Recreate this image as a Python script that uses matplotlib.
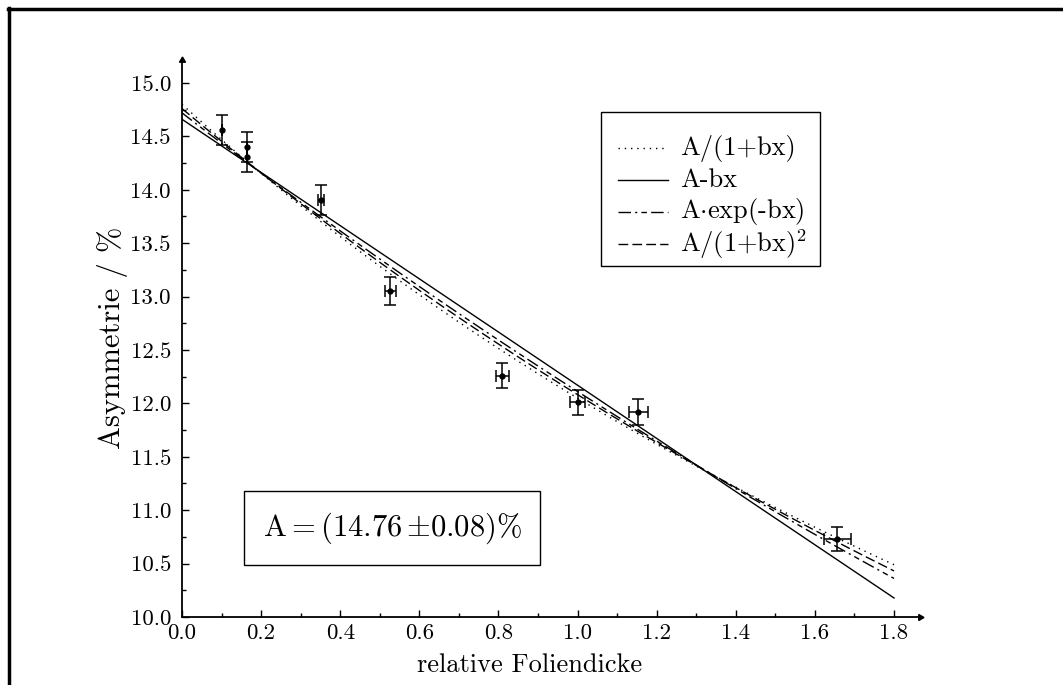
import numpy as np
import matplotlib
matplotlib.use("Agg")
import matplotlib.pyplot as plt
from matplotlib.ticker import MultipleLocator, FormatStrFormatter
from matplotlib.lines import Line2D
from matplotlib.patches import Rectangle

plt.rcParams['font.family'] = 'serif'
plt.rcParams['font.serif'] = ['cmr10', 'DejaVu Serif']
plt.rcParams['mathtext.fontset'] = 'cm'
plt.rcParams['axes.formatter.use_mathtext'] = True

# Messpunkte: relative Foliendicke, Asymmetrie in %, Fehler
dicke = [0.10, 0.165, 0.165, 0.351, 0.527, 0.81, 1.00, 1.153, 1.657]
asym = [14.56, 14.40, 14.31, 13.90, 13.05, 12.26, 12.01, 11.92, 10.73]
d_dicke = [0.0, 0.0, 0.0, 0.008, 0.013, 0.017, 0.019, 0.024, 0.034]
d_asym = [0.14, 0.14, 0.14, 0.14, 0.13, 0.12, 0.115, 0.12, 0.11]

# Fitparameter (A in %, b)
fit_hyp = (14.80, 0.2283)    # A/(1+bx)
fit_lin = (14.66, 2.49)      # A-bx
fit_exp = (14.72, 0.1951)    # A*exp(-bx)
fit_hyp2 = (14.76, 0.1053)   # A/(1+bx)^2

namen = ['A/(1+bx)', 'A-bx', r'A$\cdot$exp(-bx)', r'A/(1+bx)$^2$']
stile = [(0, (1, 3.5)), '-', (0, (9, 3, 1.5, 3, 4, 3)), (0, (7, 3))]

W, H = 1063, 685
fig = plt.figure(figsize=(W/100, H/100), dpi=100)
ax = fig.add_axes([182/W, 68/H, 738/W, 557/H])

x = np.linspace(0, 1.8, 400)
kurven = [fit_hyp[0]/(1 + fit_hyp[1]*x),
          fit_lin[0] - fit_lin[1]*x,
          fit_exp[0]*np.exp(-fit_exp[1]*x),
          fit_hyp2[0]/(1 + fit_hyp2[1]*x)**2]
for y, ls in zip(kurven, stile):
    ax.plot(x, y, color='k', lw=1.0, ls=ls)

ax.errorbar(dicke, asym, yerr=d_asym, xerr=d_dicke, fmt='o', color='k', ms=3.5,
            elinewidth=1.1, capsize=4.5, capthick=1.1)

ax.set_xlim(0, 1.8656)
ax.set_ylim(10.0, 15.215)
ax.xaxis.set_major_locator(MultipleLocator(0.2))
ax.xaxis.set_minor_locator(MultipleLocator(0.1))
ax.yaxis.set_major_locator(MultipleLocator(0.5))
ax.yaxis.set_minor_locator(MultipleLocator(0.25))
ax.xaxis.set_major_formatter(FormatStrFormatter('%.1f'))
ax.yaxis.set_major_formatter(FormatStrFormatter('%.1f'))
ax.tick_params(which='both', direction='in', labelsize=16.5, width=1)
ax.tick_params(which='major', length=5, pad=5)
ax.tick_params(which='minor', length=3)
ax.tick_params(axis='y', pad=8)
for s in ['top', 'right']:
    ax.spines[s].set_visible(False)
for s in ['left', 'bottom']:
    ax.spines[s].set_linewidth(1.3)

# Pfeile an den Achsenenden
ax.plot(1, 0, marker=(3, 0, -90), color='k', ms=5, transform=ax.transAxes, clip_on=False)
ax.plot(0, 1, marker=(3, 0, 0), color='k', ms=5, transform=ax.transAxes, clip_on=False)

ax.set_xlabel('relative Foliendicke', fontsize=19)
ax.xaxis.set_label_coords((530 - 182)/738, -(665 - 617)/557, transform=ax.transAxes)
ax.xaxis.label.set_va('center')
ax.set_ylabel('Asymmetrie / %', fontsize=22)
ax.yaxis.set_label_coords(-(182 - 112)/738, (617 - 338)/557, transform=ax.transAxes)
ax.yaxis.label.set_va('center')

# Legende von Hand
fig.add_artist(Rectangle((601/W, 1 - 266/H), 219/W, 154/H, fill=True, fc='white',
                         ec='k', lw=1.0, transform=fig.transFigure))
for i, (name, ls) in enumerate(zip(namen, stile)):
    yy = 1 - (148 + 32*i)/H
    fig.add_artist(Line2D([618/W, 668/W], [yy, yy], color='k', lw=1.0, ls=ls,
                          transform=fig.transFigure))
    fig.text(680/W, yy, name, fontsize=19, va='center', ha='left')

fig.text(392/W, 1 - 528/H, r'$\mathrm{A} = (14.76\,{\pm}0.08)\%$',
         fontsize=22, ha='center', va='center',
         bbox=dict(boxstyle='square,pad=0.62', fc='white', ec='k', lw=1.0))

# Rahmen oben und links
fig.add_artist(Line2D([8/W, 1], [1 - 9/H, 1 - 9/H], color='k', lw=2.5, transform=fig.transFigure))
fig.add_artist(Line2D([9/W, 9/W], [0, 1 - 8/H], color='k', lw=2.5, transform=fig.transFigure))

fig.savefig('out.png', dpi=100)
